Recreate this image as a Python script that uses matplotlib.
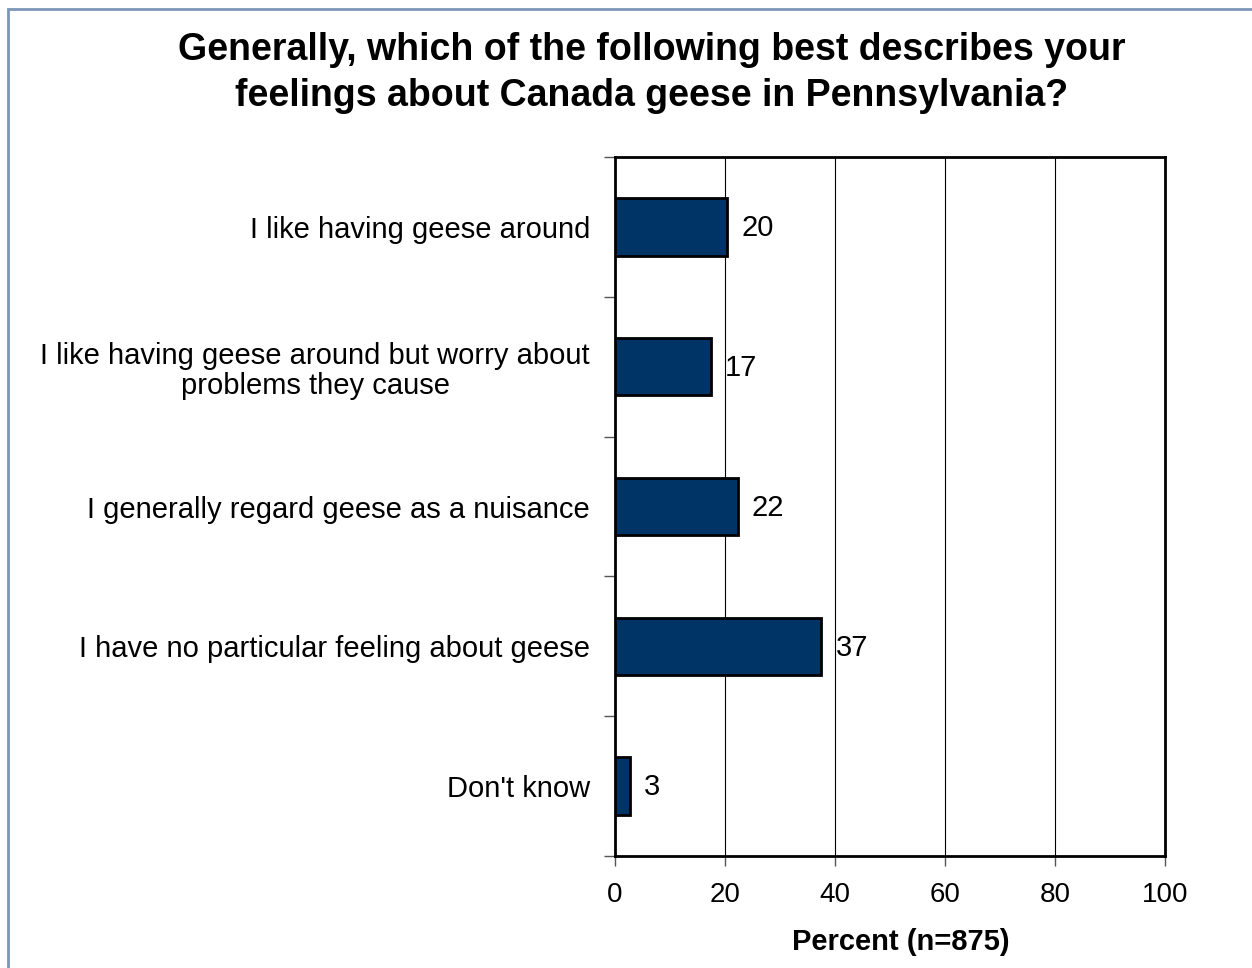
import matplotlib.pyplot as plt
from matplotlib.patches import Rectangle

plt.rcParams['font.family'] = ['Liberation Sans', 'DejaVu Sans']

# data (top to bottom)
categories = [
    "I like having geese around",
    "I like having geese around but worry about\nproblems they cause",
    "I generally regard geese as a nuisance",
    "I have no particular feeling about geese",
    "Don't know",
]
values = [20.4, 17.4, 22.3, 37.5, 2.7]
value_labels = ["20", "17", "22", "37", "3"]
x_ticks = [0, 20, 40, 60, 80, 100]

fig = plt.figure(figsize=(12.52, 9.68), dpi=100)

# outer frame of the chart area
fig.patches.append(Rectangle((8 / 1252, -0.05), 1.1, 1 - 9 / 968 + 0.05,
                             transform=fig.transFigure, fill=False,
                             edgecolor='#7b96b8', linewidth=2))

ax = fig.add_axes([615 / 1252, 1 - 856 / 968, 550 / 1252, 699 / 968])

n = len(categories)
pos = list(range(n))
ax.barh(pos, values, height=0.41, color='#003366', edgecolor='black', linewidth=2, zorder=3)

for p, v, lab in zip(pos, values, value_labels):
    ax.text(v + 2.6, p + 0.01, lab, va='center', ha='left', fontsize=21)

ax.set_xlim(0, 100)
ax.set_ylim(n - 0.5, -0.5)
ax.set_xticks(x_ticks)
ax.set_xticklabels([str(t) for t in x_ticks], fontsize=20)
ax.set_yticks(pos)
ax.set_yticklabels(categories, fontsize=21, multialignment='center', linespacing=1.1)
ax.tick_params(axis='y', length=0, pad=18)
ax.tick_params(axis='x', length=7, width=1, pad=12, direction='out', color='#555555')

# category separator ticks on the y axis
ax.set_yticks([i - 0.5 for i in range(n + 1)], minor=True)
ax.tick_params(axis='y', which='minor', length=8, width=1, color='#555555')

ax.grid(axis='x', color='black', linewidth=0.8, zorder=0)
for s in ax.spines.values():
    s.set_linewidth(2)
    s.set_color('black')

ax.set_xlabel("Percent (n=875)", fontsize=21, fontweight='bold')
ax.xaxis.set_label_coords((901 - 615) / 550, -(942 - 856) / 699)
ax.xaxis.label.set_va('center')

fig.text(652 / 1252, 1 - 73 / 968,
         "Generally, which of the following best describes your\nfeelings about Canada geese in Pennsylvania?",
         ha='center', va='center', fontsize=27, fontweight='bold', linespacing=1.38)

fig.savefig("out.png", dpi=100)
